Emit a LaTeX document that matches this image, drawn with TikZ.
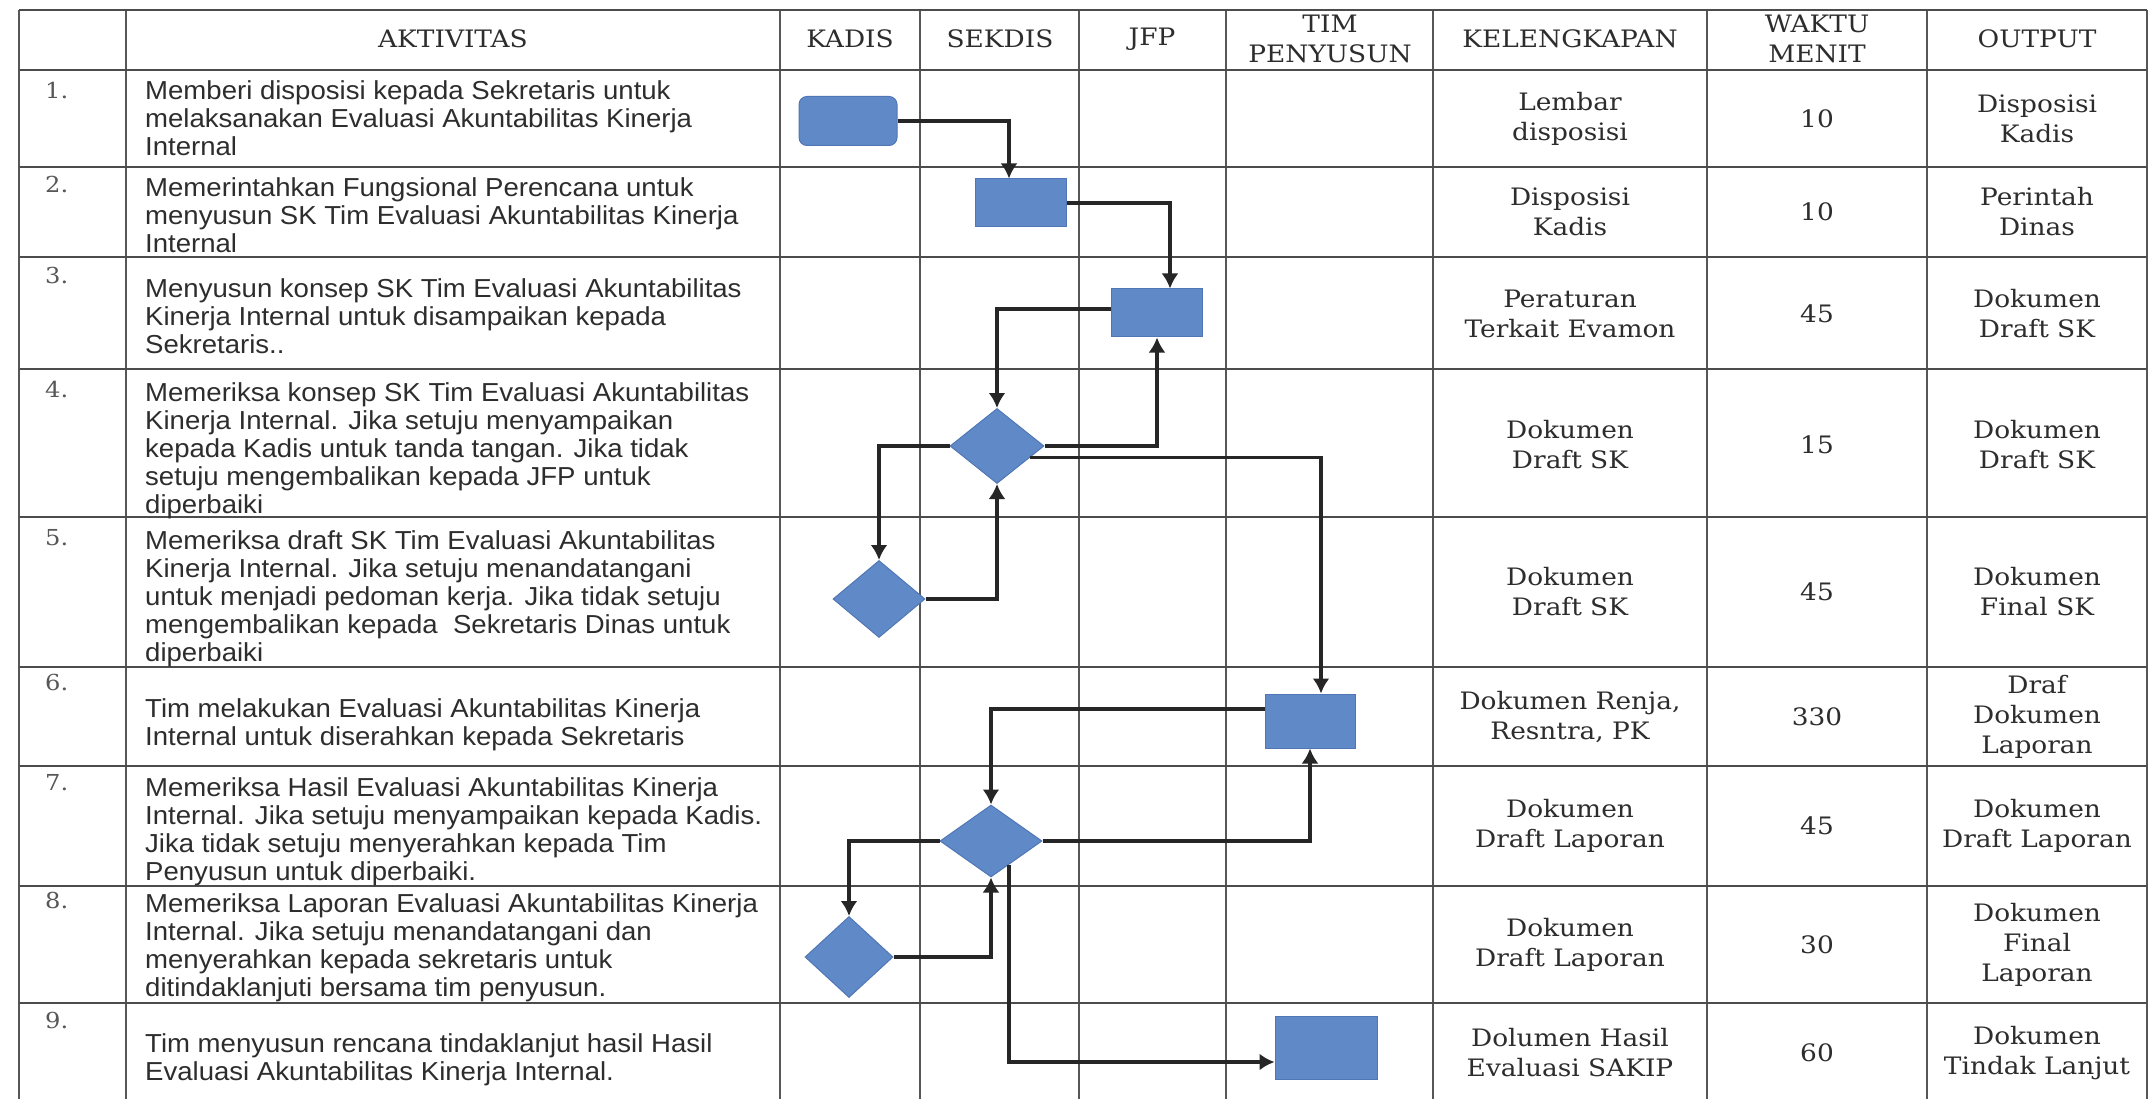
\documentclass[tikz,border=0pt]{standalone}
\usepackage{fontspec}
\setmainfont[FakeStretch=1.06]{Liberation Sans}
\newfontfamily\cellfont[FakeStretch=1.1]{DejaVu Serif}
\usetikzlibrary{arrows.meta,shapes.geometric,calc,backgrounds}

\definecolor{boxblue}{RGB}{96,137,200}
\definecolor{boxedge}{RGB}{80,118,182}
\definecolor{ink}{RGB}{45,45,45}

\tikzset{
  tline/.style={draw=ink!85, line width=2.6pt},
  vline/.style={draw=ink!80, line width=2pt},
  procbox/.style={rectangle, fill=boxblue, draw=boxedge, line width=1pt,
    minimum width=91pt, minimum height=48pt, inner sep=0pt},
  startbox/.style={procbox, rounded corners=8pt, minimum width=98pt, minimum height=49pt},
  decide/.style={diamond, fill=boxblue, draw=boxedge, line width=1pt, inner sep=0pt},
  flowline/.style={draw=black!85, line width=3.2pt, -{Latex[length=15pt,width=17pt]}},
  hdr/.style={font=\cellfont\fontsize{24}{30}\selectfont, text=ink, align=center, inner sep=0pt},
  datacell/.style={hdr},
  act/.style={anchor=north west, align=left, inner sep=0pt, text=ink,
    font=\fontsize{26}{28}\selectfont},
  rownum/.style={anchor=north west, inner sep=0pt, text=ink!80,
    font=\cellfont\fontsize{22}{22}\selectfont},
}

\begin{document}
\begin{tikzpicture}[x=1pt,y=-1pt]
    \useasboundingbox (0,0) rectangle (2150,1099);
    \fill[white] (0,0) rectangle (2150,1099);
    % Draw table
    \foreach \x in {19,126,780,920,1079,1226,1433,1707,1927,2147}
      \draw[vline] (\x,10) -- (\x,1099);
    \foreach \y in {10,70,167,257,369,517,667,766,886,1003}
      \draw[tline] (19,\y) -- (2147,\y);
    % Headers
    \foreach \n/\xc/\t in {aktivitas/453/AKTIVITAS, kadis/850/KADIS, sekdis/1000/SEKDIS,
        jfp/1152/JFP, tim/1330/{TIM\\PENYUSUN}, kelengkapan/1570/KELENGKAPAN,
        waktu/1817/{WAKTU\\MENIT}, output/2037/OUTPUT}
      \node[hdr] (h\n) at (\xc,39) {\t};
    % Row numbers
    \foreach \i/\y in {1/82, 2/176, 3/267, 4/381, 5/529, 6/674, 7/774, 8/892, 9/1012}
      \node[rownum] (no\i) at (45,\y) {\i.};
    % Activities
    \node[act] (act1) at (145,80) {Memberi disposisi kepada Sekretaris untuk\\
      melaksanakan Evaluasi Akuntabilitas Kinerja\\ Internal};
    \node[act] (act2) at (145,177) {Memerintahkan Fungsional Perencana untuk\\
      menyusun SK Tim Evaluasi Akuntabilitas Kinerja\\ Internal};
    \node[act] (act3) at (145,278) {Menyusun konsep SK Tim Evaluasi Akuntabilitas\\
      Kinerja Internal untuk disampaikan kepada\\ Sekretaris..};
    \node[act] (act4) at (145,382) {Memeriksa konsep SK Tim Evaluasi Akuntabilitas\\
      Kinerja Internal. Jika setuju menyampaikan\\ kepada Kadis untuk tanda tangan. Jika tidak\\
      setuju mengembalikan kepada JFP untuk\\ diperbaiki};
    \node[act] (act5) at (145,530) {Memeriksa draft SK Tim Evaluasi Akuntabilitas\\
      Kinerja Internal. Jika setuju menandatangani\\ untuk menjadi pedoman kerja. Jika tidak setuju\\
      mengembalikan kepada~ Sekretaris Dinas untuk\\ diperbaiki};
    \node[act] (act6) at (145,698) {Tim melakukan Evaluasi Akuntabilitas Kinerja\\
      Internal untuk diserahkan kepada Sekretaris};
    \node[act] (act7) at (145,777) {Memeriksa Hasil Evaluasi Akuntabilitas Kinerja\\
      Internal. Jika setuju menyampaikan kepada Kadis.\\ Jika tidak setuju menyerahkan kepada Tim\\
      Penyusun untuk diperbaiki.};
    \node[act] (act8) at (145,893) {Memeriksa Laporan Evaluasi Akuntabilitas Kinerja\\
      Internal. Jika setuju menandatangani dan\\ menyerahkan kepada sekretaris untuk\\
      ditindaklanjuti bersama tim penyusun.};
    \node[act] (act9) at (145,1033) {Tim menyusun rencana tindaklanjut hasil Hasil\\
      Evaluasi Akuntabilitas Kinerja Internal.};
    % Kelengkapan, waktu, output
    \foreach \i/\yc/\kel/\wkt/\out in {
        1/119/{Lembar\\disposisi}/10/{Disposisi\\Kadis},
        2/212/{Disposisi\\Kadis}/10/{Perintah\\Dinas},
        3/314/{Peraturan\\Terkait Evamon}/45/{Dokumen\\Draft SK},
        4/445/{Dokumen\\Draft SK}/15/{Dokumen\\Draft SK},
        5/592/{Dokumen\\Draft SK}/45/{Dokumen\\Final SK},
        6/717/{Dokumen Renja,\\Resntra, PK}/330/{Draf\\Dokumen\\Laporan},
        7/826/{Dokumen\\Draft Laporan}/45/{Dokumen\\Draft Laporan},
        8/945/{Dokumen\\Draft Laporan}/30/{Dokumen\\Final\\Laporan},
        9/1053/{Dolumen Hasil\\Evaluasi SAKIP}/60/{Dokumen\\Tindak Lanjut}} {
      \node[datacell] (kel\i) at (1570,\yc) {\kel};
      \node[datacell] (wkt\i) at (1817,\yc) {\wkt};
      \node[datacell] (out\i) at (2037,\yc) {\out};
    }
    % Flow shapes
    \node[startbox] (k1) at (848,121) {};
    \node[procbox] (s2) at (1021,203) {};
    \node[procbox] (j3) at (1157,313) {};
    \node[decide, minimum width=94pt, minimum height=75pt] (d4) at (997,446) {};
    \node[decide, minimum width=92pt, minimum height=77pt] (d5) at (879,599) {};
    \node[procbox, minimum width=90pt, minimum height=54pt] (t6) at (1310,721) {};
    \node[decide, minimum width=102pt, minimum height=72pt] (d7) at (991,841) {};
    \node[decide, minimum width=88pt, minimum height=81pt] (d8) at (849,957) {};
    \node[procbox, minimum width=102pt, minimum height=63pt] (t9) at (1326,1048) {};
    % Connectors
    \draw[flowline] (k1.east) -| ([xshift=-12pt]s2.north);
    \draw[flowline] (s2.east) -| ([xshift=13pt]j3.north);
    \draw[flowline] ([yshift=4pt]j3.west) -| (d4.north);
    \draw[flowline] (d4.east) -| (j3.south);
    \draw[flowline] ($(d4.east)!0.3!(d4.south)$) -| ([xshift=11pt]t6.north);
    \draw[flowline] (d4.west) -| (d5.north);
    \draw[flowline] (d5.east) -| (d4.south);
    \draw[flowline] ([yshift=12pt]t6.west) -| (d7.north);
    \draw[flowline] (d7.east) -| (t6.south);
    \draw[flowline] (d7.west) -| (d8.north);
    \draw[flowline] (d8.east) -| (d7.south);
    \draw[flowline] ($(d7.south)!0.35!(d7.east)$) |- ([yshift=-14pt]t9.west);
\end{tikzpicture}
\end{document}
